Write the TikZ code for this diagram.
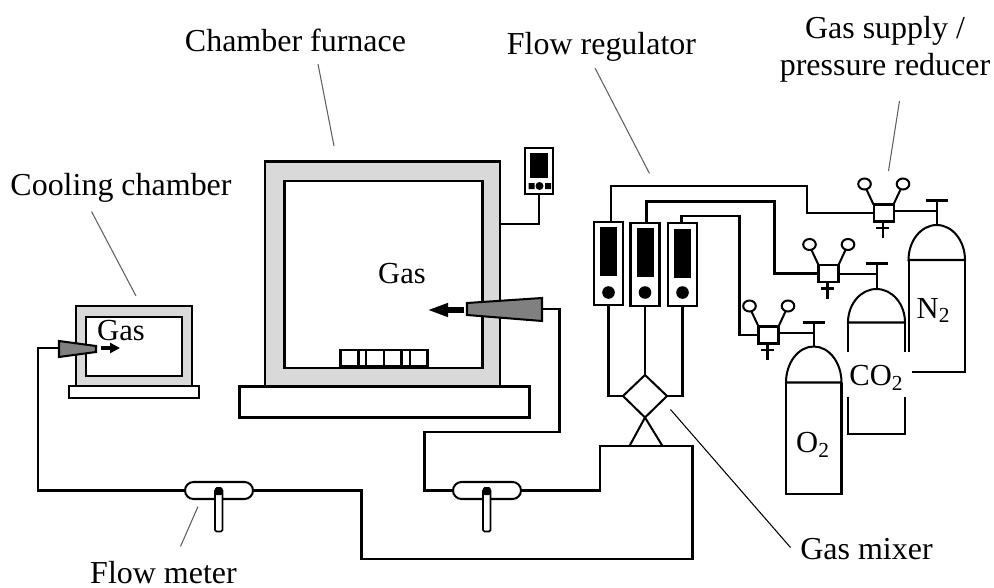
\documentclass[tikz,border=0pt]{standalone}
\usepackage{fontspec}
\setmainfont{Liberation Serif}
\usetikzlibrary{arrows.meta}
\def\px{.02cm}
\tikzset{
	pipe/.style={line width=1.15pt},
	leader/.style={line width=.6pt,gray!75!black},
	label/.style={font=\fontsize{18.2}{21.15}\selectfont,inner sep=0pt,anchor=base},
	gaslabel/.style={font=\fontsize{17.4}{21}\selectfont,inner sep=0pt,anchor=base},
	wall/.style={draw,line width=1.15pt,fill=gray!30,inner sep=0pt,outer sep=0pt},
	plain/.style={draw,line width=1.15pt,fill=white,inner sep=0pt,outer sep=0pt},
	nozzle/.style={draw,line width=1.15pt,fill=black!50},
	smallflow/.style={-{Triangle[length=.2cm,width=.2cm]},line width=.09cm},
	bigflow/.style={-{Triangle[length=.42cm,width=.25cm]},line width=.11cm},
}
\begin{document}
\begin{tikzpicture}[x=.02cm,y=-.02cm]
	\useasboundingbox (0,0) rectangle (994,588);
	%furnace
	\node[plain,minimum width=290*\px,minimum height=31*\px] (furnacebase) at (384.5,402) {};
	\node[wall,minimum width=235*\px,minimum height=225*\px] (furnace) at (382.5,274) {};
	\node[plain,minimum width=198*\px,minimum height=187*\px] (furnacein) at (383.5,274.5) {};
	\node[plain,minimum width=87*\px,minimum height=16*\px] (samples) at (384,358) {};
	\foreach \x in {358.5,366,384,401.5,410}
		\draw[pipe] (\x,350) -- (\x,366);
	\node[gaslabel] (gasA) at (402,283) {Gas};
	%controller
	\node[plain,minimum width=28*\px,minimum height=46*\px] (display) at (539,171) {};
	\fill (530,153) rectangle (548,178);
	\fill (528.5,183) rectangle (534.5,189) (545,183) rectangle (551,189);
	\fill (539.5,186) circle (4);
	\draw[pipe] (display.south) |- (furnace.east |- 0,224);
	%cooling chamber
	\node[plain,minimum width=130*\px,minimum height=12*\px] (coolbase) at (134,392) {};
	\node[wall,minimum width=116*\px,minimum height=80*\px] (cool) at (134,346) {};
	\node[plain,minimum width=96*\px,minimum height=59*\px] (coolin) at (134,346.5) {};
	\node[gaslabel] (gasB) at (121,340.5) {Gas};
	%nozzles
	\draw[nozzle] (59,341) -- (96,346) -- (96,352) -- (59,357) -- cycle;
	\draw[nozzle] (467,303) -- (542,298) -- (542,321) -- (467,315) -- cycle;
	\coordinate (nozzleA) at (59,348);
	\coordinate (nozzleB) at (542,309);
	\draw[smallflow] (100.5,348) -- (120,348);
	\draw[bigflow] (464,310) -- (427,310);
	%flow meters
	\foreach \name/\x in {meterA/219,meterB/487}
		{
			\node[plain,rounded corners=.17cm,minimum width=68*\px,minimum height=17*\px] (\name) at (\x,490.5) {};
			\draw[line width=1pt,fill=white,rounded corners=.03cm] (\x-4,489) rectangle (\x+3.5,531.5);
			\fill[rounded corners=.03cm] (\x-4,487) rectangle (\x+3.5,495);
		}
	%flow regulators
	\foreach \name/\x/\y/\s in {regA/608.5/263.5/251.5,regB/645/264.5/252.5,regC/682.5/264.5/253.5}
		{
			\node[plain,minimum width=29*\px,minimum height=83*\px] (\name) at (\x,\y) {};
			\fill (\x-8.5,\s-24.5) rectangle (\x+8.5,\s+24.5);
			\fill (\x,292.5) circle (6.3);
		}
	%mixer
	\coordinate (mixT) at (645,375);
	\coordinate (mixL) at (623,396);
	\coordinate (mixR) at (667,396);
	\coordinate (mixB) at (645,417.5);
	\draw[pipe,fill=white,line join=round] (mixT) -- (mixR) -- (mixB) -- (mixL) -- cycle;
	\draw[pipe] (regA.south) |- (mixL);
	\draw[pipe] (regB.south) -- (mixT);
	\draw[pipe] (regC.south) |- (mixR);
	\draw[pipe] (629.5,446) -- (mixB) -- (662.5,446);
	%reducers
	\foreach \name/\x/\y in {redA/883.5/213,redB/828.5/273.5,redC/768.5/335}
		{
			\node[plain,minimum width=20*\px,minimum height=17*\px] (\name) at (\x,\y) {};
			\draw[pipe,fill=white] (\x-19,\y-29) ellipse (6.3 and 5.5) (\x+19.5,\y-29) ellipse (6.3 and 5.5);
			\draw[pipe] (\x-10,\y-8.5) -- (\x-17,\y-23.5) (\x+10,\y-8.5) -- (\x+17,\y-23.5);
			\draw[pipe] (\x-1,\y+8.5) -- (\x-1,\y+25) (\x-7.5,\y+15) -- (\x+5.5,\y+15);
		}
	%bottles
	\foreach \name/\l/\r/\top/\neck/\bar in {bottleN/908.5/965/225/260/200.5,bottleC/848/905/289/322.5/263.5,bottleO/786/841.5/346.5/382.5/322.5}
		{
			\pgfmathsetmacro\rx{(\r-\l)/2}
			\pgfmathsetmacro\ry{\neck-\top}
			\pgfmathsetmacro\mid{(\r+\l)/2}
			\draw[pipe] (\l,\neck) arc[start angle=180,end angle=360,x radius=\rx,y radius=\ry] -- cycle;
			\draw[pipe] (\mid,\top) -- (\mid,\bar) (\mid-11,\bar) -- (\mid+11,\bar);
			\coordinate (\name) at (\mid,\bar+10.5);
		}
	\draw[pipe] (908.5,260) -- (908.5,352);
	\draw[pipe] (911.5,372) -| (965,260);
	\draw[pipe] (848,322.5) -- (848,352) (905,322.5) -- (905,352);
	\draw[pipe] (848,396.5) |- (905,434) -- (905,396.5);
	\draw[pipe] (786,382.5) |- (841.5,494) -- (841.5,382.5);
	\node[gaslabel] (labelN) at (933.5,318) {N\textsubscript{2}};
	\node[gaslabel] (labelC) at (876.5,385.5) {CO\textsubscript{2}};
	\node[gaslabel] (labelO) at (813,452.5) {O\textsubscript{2}};
	%gas lines
	\draw[pipe] (611,222) |- (807,186) |- (redA.west);
	\draw[pipe] (646.5,223) |- (774.5,201.5) |- (redB.west);
	\draw[pipe] (681.5,223) |- (739.5,216) |- (redC.west);
	\draw[pipe] (redA.east |- bottleN) -- (bottleN);
	\draw[pipe] (redB.east |- bottleC) -- (bottleC);
	\draw[pipe] (redC.east |- bottleO) -- (bottleO);
	\draw[pipe] (nozzleA) -| (38,490.5) -- (meterA.west);
	\draw[pipe] (meterA.east) -| (361.5,559) -| (692.5,446) -| (600,490.5) -- (meterB.east);
	\draw[pipe] (meterB.west) -| (424.5,432) -| (559.5,309) -- (nozzleB);
	%labels
	\node[label] (furnacetext) at (295.5,51.5) {Chamber furnace};
	\node[label] (regtext) at (601.5,55) {Flow regulator};
	\node[label,anchor=center,align=center] (supplytext) at (885,49) {Gas supply /\\pressure reducer};
	\node[label] (cooltext) at (121,195) {Cooling chamber};
	\node[label] (metertext) at (163.5,583) {Flow meter};
	\node[label] (mixertext) at (866.5,559.5) {Gas mixer};
	\draw[leader] (318,64) -- (334,146);
	\draw[leader] (595,68) -- (649.5,173.5);
	\draw[leader] (899.5,101) -- (888.5,171);
	\draw[leader] (91.5,211.5) -- (136,296);
	\draw[leader] (198,506.5) -- (180.5,546.5);
	\draw[line width=.6pt] (670.5,409.5) -- (790.5,547.5);
\end{tikzpicture}
\end{document}
